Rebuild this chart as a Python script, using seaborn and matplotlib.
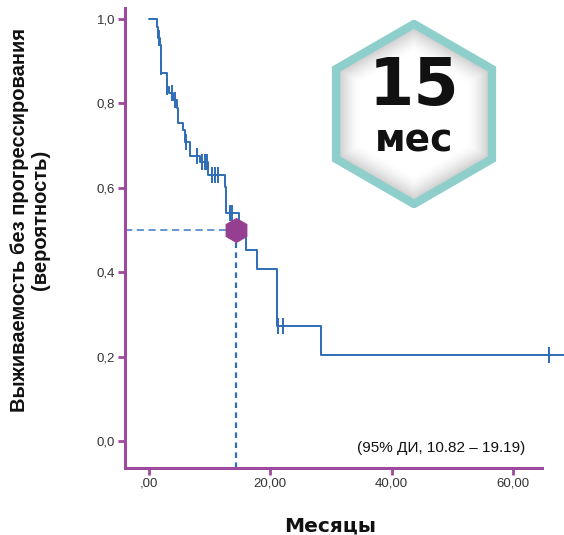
import numpy as np
import pandas as pd
import seaborn as sns
import matplotlib
matplotlib.use("Agg")
from matplotlib import pyplot as plt
from matplotlib.patches import RegularPolygon

# Kaplan-Meier steps (months, survival after the event)
event_times = [0.0, 1.42, 1.55, 1.8, 1.97, 2.1, 2.96, 3.37, 4.0, 4.6, 4.9, 5.6, 5.95,
               6.8, 8.5, 9.8, 12.5, 12.8, 14.8, 16.1, 17.8, 21.1, 28.3, 68.4]
survival = [1.0, 0.982, 0.954, 0.938, 0.887, 0.871, 0.840, 0.824, 0.808, 0.789, 0.753,
            0.737, 0.709, 0.675, 0.662, 0.630, 0.601, 0.541, 0.497, 0.453, 0.408,
            0.273, 0.204, 0.204]
censor_times = [1.7, 2.05, 3.05, 3.9, 4.3, 6.1, 8.0, 8.8, 9.3, 9.65, 10.4, 10.9, 11.4,
                13.4, 13.8, 21.3, 22.1, 66.0]
median_x = 14.4
median_y = 0.5

x_ticks = [0, 20, 40, 60]
x_ticklabels = [",00", "20,00", "40,00", "60,00"]
y_ticks = [0.0, 0.2, 0.4, 0.6, 0.8, 1.0]
y_ticklabels = ["0,0", "0,2", "0,4", "0,6", "0,8", "1,0"]

badge_big = "15"
badge_small = "мес"
ci_text = "(95% ДИ, 10.82 – 19.19)"
x_label = "Месяцы"
y_label = "Выживаемость без прогрессирования\n(вероятность)"

purple = "#9E4A9C"
blue = "#2F6DB5"

sns.set_style("ticks")
plt.rcParams["font.family"] = ["Liberation Sans", "DejaVu Sans"]

km = pd.DataFrame({"t": event_times, "s": survival})
# survival level at each censor time, read from the step function
idx = np.searchsorted(np.array(event_times), np.array(censor_times), side="right") - 1
cens = pd.DataFrame({"t": censor_times, "s": np.array(survival)[idx]})

fig = plt.figure(figsize=(5.64, 5.35), dpi=100)
ax = fig.add_axes([125 / 564, 67.3 / 535, 439 / 564, 459.7 / 535])

sns.lineplot(data=km, x="t", y="s", ax=ax, color=blue, lw=1.4,
             drawstyle="steps-post", estimator=None, sort=False)
sns.scatterplot(data=cens, x="t", y="s", ax=ax, marker="|", s=120,
                color=blue, linewidth=1.4, zorder=4)

# median guide lines
ax.plot([-3.9, median_x], [median_y, median_y], color="#5A8ED0", lw=1.3,
        linestyle=(0, (4, 2.5)))
ax.plot([median_x, median_x], [-0.063, median_y], color=blue, lw=1.6,
        linestyle=(0, (2.5, 2)))
ax.plot(median_x, median_y, marker="h", ms=17, color="#963F90", zorder=6)

ax.set_xlim(-3.9, 68.4)
ax.set_ylim(-0.063, 1.026)
ax.set_xticks(x_ticks)
ax.set_xticklabels(x_ticklabels)
ax.set_yticks(y_ticks)
ax.set_yticklabels(y_ticklabels)
ax.set_xlabel("")
ax.set_ylabel("")
ax.tick_params(bottom=True, left=True, direction="out", length=5, width=2,
               color=purple, labelsize=9.5, labelcolor="#333333", pad=2)

for side in ["top", "right"]:
    ax.spines[side].set_visible(False)
for side in ["left", "bottom"]:
    ax.spines[side].set_color(purple)
    ax.spines[side].set_linewidth(2.2)
ax.spines["bottom"].set_bounds(-3.9, 64.7)

ax.text(62.0, -0.017, ci_text, ha="right", va="center", fontsize=11, color="#111111")

fig.text(330 / 564, 1 - 526 / 535, x_label, ha="center", va="center",
         fontsize=14.5, fontweight="bold", family="DejaVu Sans", color="#111111")
fig.text(30 / 564, 1 - 220 / 535, y_label, ha="center", va="center", rotation=90,
         multialignment="center", fontsize=14.5, fontweight="bold",
         linespacing=1.15, color="#111111")

# hexagon badge
bx = fig.add_axes([331 / 564, (535 - 208) / 535, 166 / 564, 188 / 535])
bx.set_xlim(-83, 83)
bx.set_ylim(-94, 94)
bx.axis("off")
gx, gy = np.meshgrid(np.linspace(-83, 83, 240), np.linspace(-94, 94, 270))
apothem = 90 * np.sqrt(3) / 2
hexnorm = np.maximum.reduce([np.abs(gx), np.abs(0.5 * gx + 0.866 * gy),
                             np.abs(0.5 * gx - 0.866 * gy)]) / apothem
shade = 1 - 0.24 * np.clip((hexnorm - 0.68) / 0.32, 0, 1) ** 1.6
img = bx.imshow(shade, cmap="gray", vmin=0, vmax=1, extent=(-83, 83, -94, 94),
                origin="lower", interpolation="bilinear", aspect="auto")
clip_hex = RegularPolygon((0, 0), 6, radius=90, facecolor="none", edgecolor="none")
bx.add_patch(clip_hex)
img.set_clip_path(clip_hex)
bx.add_patch(RegularPolygon((0, 0), 6, radius=90, facecolor="none",
                            edgecolor="#8ECFCC", lw=6))
bx.text(0, 27, badge_big, ha="center", va="center", fontsize=47,
        fontweight="bold", family="DejaVu Sans", color="#111111")
bx.text(0, -27, badge_small, ha="center", va="center", fontsize=27,
        fontweight="bold", family="DejaVu Sans", color="#111111")

fig.savefig("out.png", dpi=100)
